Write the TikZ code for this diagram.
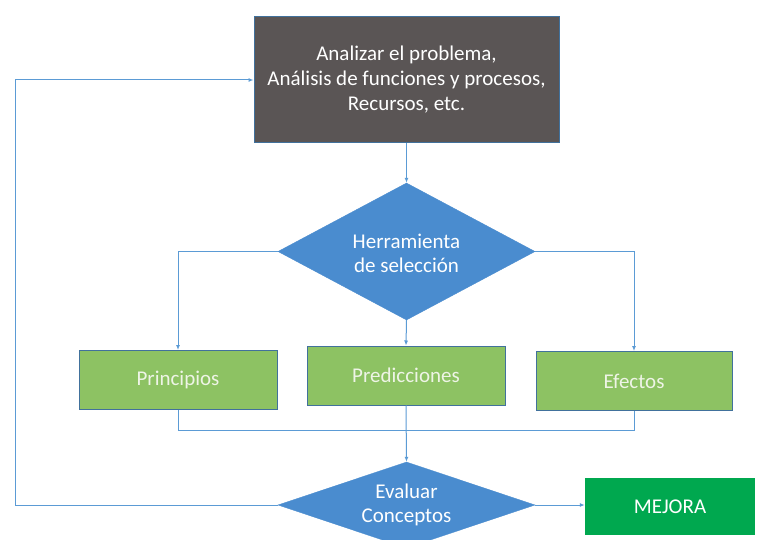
\documentclass[tikz,border=0pt]{standalone}
\usepackage{fontspec}
\setmainfont{Carlito}
\usetikzlibrary{shapes.geometric,arrows.meta}
\definecolor{lineblue}{HTML}{5B9BD5}
\definecolor{diafill}{HTML}{4A8CCF}
\definecolor{boxgreen}{HTML}{8DC263}
\definecolor{darkbox}{HTML}{5A5555}
\definecolor{mejora}{HTML}{00A84F}
\definecolor{bordblue}{HTML}{41719C}
\definecolor{lighttext}{HTML}{EEF4E6}
\begin{document}
\begin{tikzpicture}[x=1pt,y=-1pt,
 conn/.style={draw=lineblue,line width=1pt},
 arr/.style={conn,-{Latex[length=5pt,width=4pt]}},
 greenbox/.style={draw=bordblue,line width=1pt,fill=boxgreen,minimum width=198pt,minimum height=59pt,inner sep=0pt,text=lighttext,font=\fontsize{21}{25}\selectfont},
 dia/.style={diamond,fill=diafill,draw=diafill,inner sep=0pt},
 diatext/.style={inner sep=0pt,text=white,align=center,font=\fontsize{21}{24}\selectfont},
]
\useasboundingbox (0,0) rectangle (769,540);
\fill[white] (0,0) rectangle (769,540);
\node[draw=bordblue,line width=1pt,fill=darkbox,minimum width=305pt,minimum height=126pt,inner sep=0pt,text=white,align=center,font=\fontsize{21}{25}\selectfont] (top) at (406.5,80) {Analizar el problema,\\Análisis de funciones y procesos,\\Recursos, etc.};
\node[dia,minimum width=257pt,minimum height=137pt] (sel) at (406.5,251.5) {};
\node[diatext] (selt) at (406.5,253) {Herramienta\\de selección};
\node[greenbox] (pri) at (178,380) {Principios};
\node[greenbox] (pre) at (406,375.5) {Predicciones};
\node[greenbox,minimum width=196pt] (efe) at (634,381) {Efectos};
\node[dia,minimum width=257pt,minimum height=86pt] (eva) at (406.5,505) {};
\node[diatext] (evat) at (406.5,505) {Evaluar\\Conceptos};
\node[fill=mejora,minimum width=170pt,minimum height=57pt,inner sep=0pt,text=white,font=\fontsize{21}{25}\selectfont] (mej) at (670,506.5) {MEJORA};
\coordinate (j) at (406.5,430);
\coordinate (lft) at (15,0);
\draw[arr] (top.south) -- (sel.north);
\draw[arr] (sel.west) -| (pri.north);
\draw[arr] (sel.east) -| (efe.north);
\draw[arr] (sel.south) -- (pre.north);
\draw[conn] (pri.south) -- (pri.south |- j) -- (efe.south |- j) -- (efe.south);
\draw[arr] (pre.south) -- (eva.north);
\draw[arr] (eva.west) -- (eva.west -| lft) |- (top.west);
\draw[arr] (eva.east) -- (eva.east -| mej.west);
\end{tikzpicture}
\end{document}
